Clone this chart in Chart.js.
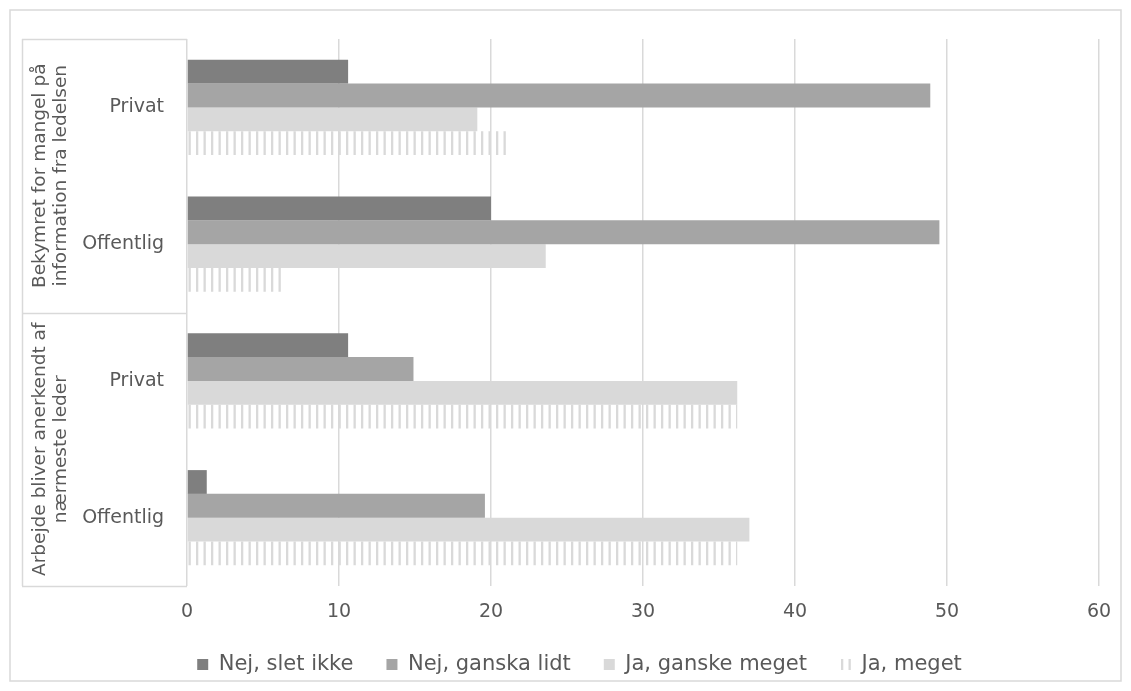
<!DOCTYPE html>
<html>
<head>
<meta charset="utf-8">
<script src="https://cdn.jsdelivr.net/npm/chart.js@4"></script>
<style>
  html, body { margin: 0; padding: 0; background: #fff; }
  #wrap { width: 1131px; height: 691px; }
</style>
</head>
<body>
<div id="wrap"><canvas id="chart"></canvas></div>
<script>
const categories = ["Privat", "Offentlig", "Privat", "Offentlig"];
const groups = [
  ["Bekymret for mangel på", "information fra ledelsen"],
  ["Arbejde bliver anerkendt af", "nærmeste leder"],
];
const seriesNames = ["Nej, slet ikke", "Nej, ganska lidt", "Ja, ganske meget", "Ja, meget"];
const sletIkke = [10.6, 20.0, 10.6, 1.3];
const ganskaLidt = [48.9, 49.5, 14.9, 19.6];
const ganskeMeget = [19.1, 23.6, 36.2, 37.0];
const meget = [21.0, 6.5, 36.2, 36.2];
const xTicks = [0, 10, 20, 30, 40, 50, 60];

const FONT = "Verdana, 'DejaVu Sans', sans-serif";
const TEXT = "#595959";
const LINE = "#d9d9d9";

// vertical-stripe fill for "Ja, meget"
function stripes() {
  const c = document.createElement("canvas");
  c.width = 15; c.height = 8;
  const g = c.getContext("2d");
  g.fillStyle = "#d9d9d9";
  g.fillRect(1, 0, 2.3, 8);
  g.fillRect(8.5, 0, 2.3, 8);
  return g.createPattern(c, "repeat");
}
const stripeFill = stripes();

const frame = {
  id: "frame",
  afterDraw(chart) {
    const { ctx, chartArea: a, scales } = chart;
    const y = scales.y;
    const mid = (y.getPixelForValue(1) + y.getPixelForValue(2)) / 2;
    ctx.save();
    ctx.strokeStyle = LINE;
    ctx.lineWidth = 1.5;
    ctx.strokeRect(10, 10, 1111, 671);
    ctx.beginPath();
    ctx.moveTo(22.5, a.top); ctx.lineTo(22.5, a.bottom);
    [a.top, mid, a.bottom].forEach(v => {
      ctx.moveTo(22, Math.round(v) + 0.5); ctx.lineTo(a.left, Math.round(v) + 0.5);
    });
    ctx.stroke();
    ctx.fillStyle = TEXT;
    ctx.font = "18.5px " + FONT;
    ctx.textAlign = "center";
    ctx.textBaseline = "middle";
    const spans = [[a.top, mid], [mid, a.bottom]];
    groups.forEach((lines, i) => {
      const cy = (spans[i][0] + spans[i][1]) / 2;
      ctx.save();
      ctx.translate(40, cy);
      ctx.rotate(-Math.PI / 2);
      lines.forEach((t, k) => ctx.fillText(t, 0, k * 21));
      ctx.restore();
    });
    ctx.restore();
  }
};

new Chart(document.getElementById("chart"), {
  type: "bar",
  data: {
    labels: categories,
    datasets: [
      { label: seriesNames[0], data: sletIkke, backgroundColor: "#7f7f7f" },
      { label: seriesNames[1], data: ganskaLidt, backgroundColor: "#a5a5a5" },
      { label: seriesNames[2], data: ganskeMeget, backgroundColor: "#d9d9d9" },
      { label: seriesNames[3], data: meget, backgroundColor: stripeFill },
    ],
  },
  options: {
    indexAxis: "y",
    responsive: true,
    maintainAspectRatio: false,
    animation: false,
    datasets: { bar: { barPercentage: 1, categoryPercentage: 0.695, borderWidth: 0 } },
    layout: { padding: { top: 39, right: 32, bottom: 6, left: 60 } },
    scales: {
      x: {
        min: 0, max: 60,
        afterBuildTicks(s) { s.ticks = xTicks.map(v => ({ value: v })); },
        afterFit(s) { s.height = 35; },
        grid: { color: LINE, lineWidth: 1.5, drawTicks: false },
        border: { display: false },
        ticks: { color: TEXT, font: { family: FONT, size: 19 }, padding: 15 },
      },
      y: {
        afterFit(s) { s.width = 127; },
        grid: { display: false },
        border: { display: false },
        ticks: { color: TEXT, font: { family: FONT, size: 19 }, padding: 15 },
      },
    },
    plugins: {
      legend: {
        position: "bottom",
        labels: {
          color: TEXT, font: { family: FONT, size: 21 },
          boxWidth: 11, boxHeight: 11, padding: 33,
        },
      },
      tooltip: { enabled: false },
    },
  },
  plugins: [frame],
});
</script>
</body>
</html>
